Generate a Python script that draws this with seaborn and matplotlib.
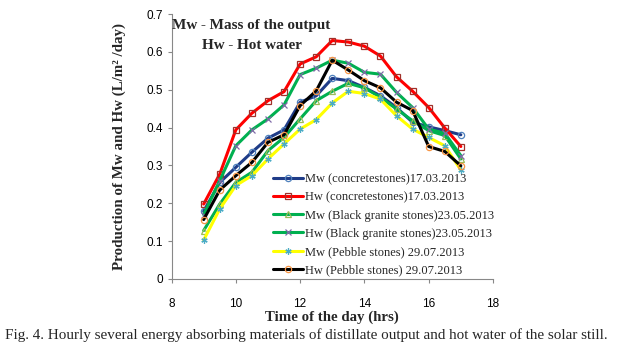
import matplotlib
matplotlib.use("Agg")
import matplotlib.pyplot as plt
import seaborn as sns
import pandas as pd

hours = [9, 9.5, 10, 10.5, 11, 11.5, 12, 12.5, 13, 13.5, 14, 14.5, 15, 15.5, 16, 16.5, 17]

mw_concrete = [0.179, 0.255, 0.295, 0.335, 0.372, 0.394, 0.467, 0.484, 0.530, 0.524,
               0.506, 0.484, 0.453, 0.414, 0.402, 0.392, 0.381]
hw_concrete = [0.198, 0.277, 0.394, 0.438, 0.471, 0.495, 0.568, 0.587, 0.630, 0.626,
               0.615, 0.589, 0.534, 0.496, 0.453, 0.399, 0.350]
mw_granite = [0.128, 0.198, 0.255, 0.282, 0.339, 0.374, 0.423, 0.471, 0.496, 0.517,
              0.505, 0.480, 0.449, 0.418, 0.392, 0.379, 0.317]
hw_granite = [0.170, 0.260, 0.352, 0.394, 0.423, 0.460, 0.540, 0.557, 0.578, 0.570,
              0.546, 0.541, 0.493, 0.453, 0.396, 0.385, 0.326]
mw_pebble = [0.103, 0.185, 0.247, 0.273, 0.317, 0.357, 0.396, 0.421, 0.465, 0.496,
             0.490, 0.475, 0.431, 0.396, 0.374, 0.352, 0.288]
hw_pebble = [0.157, 0.235, 0.273, 0.308, 0.361, 0.381, 0.458, 0.497, 0.578, 0.552,
             0.524, 0.505, 0.467, 0.445, 0.350, 0.337, 0.299]

labels = [
    "Mw (concretestones)17.03.2013",
    "Hw (concretestones)17.03.2013",
    "Mw (Black granite stones)23.05.2013",
    "Hw (Black granite stones)23.05.2013",
    "Mw (Pebble stones) 29.07.2013",
    "Hw (Pebble stones) 29.07.2013",
]
series = [mw_concrete, hw_concrete, mw_granite, hw_granite, mw_pebble, hw_pebble]

# (line colour, marker, marker edge colour, open marker)
styles = [
    ("#1F3C88", "o", "#4F81BD", True),
    ("#FF0000", "s", "#A0302A", True),
    ("#00B050", "^", "#9BBB59", True),
    ("#00B050", "x", "#7F6AA8", False),
    ("#FFFF00", (6, 2, 0), "#4BACC6", False),
    ("#000000", "o", "#F79646", True),
]

sns.set_style("white")
plt.rcParams["font.family"] = ["Liberation Sans", "DejaVu Sans"]

fig = plt.figure(figsize=(6.17, 3.43), dpi=100)
ax = fig.add_axes([0.278, 0.1866, 0.521, 0.7725])

for name, vals, (lc, mk, mec, hollow) in zip(labels, series, styles):
    df = pd.DataFrame({"hour": hours, "value": vals})
    sns.lineplot(data=df, x="hour", y="value", ax=ax, color=lc, linewidth=2.2,
                 marker=mk, markersize=4.5,
                 markerfacecolor="none" if hollow else mec,
                 markeredgecolor=mec, markeredgewidth=0.9, label=name)

ax.set_xlim(8, 18)
ax.set_ylim(0, 0.7)
ax.set_xticks([8, 10, 12, 14, 16, 18])
ax.set_yticks([0, 0.1, 0.2, 0.3, 0.4, 0.5, 0.6, 0.7])
ax.set_yticklabels(["0", "0.1", "0.2", "0.3", "0.4", "0.5", "0.6", "0.7"])
ax.tick_params(axis="both", labelsize=8.5, length=3, width=0.8,
               direction="out", colors="#888888", labelcolor="black")
ax.tick_params(axis="x", pad=11)
ax.tick_params(axis="y", pad=3)
ax.xaxis.set_ticks_position("bottom")
ax.yaxis.set_ticks_position("left")
for side in ("top", "right"):
    ax.spines[side].set_visible(False)
for side in ("left", "bottom"):
    ax.spines[side].set_color("#888888")
    ax.spines[side].set_linewidth(0.8)

serif = ["Liberation Serif", "DejaVu Serif"]
ax.set_xlabel("Time of the day (hrs)", family=serif, fontweight="bold",
              fontsize=10.7, va="center")
ax.xaxis.set_label_coords(0.5, -0.143)
ax.set_ylabel("Production of Mw and Hw (L/m² /day)", family=serif,
              fontweight="bold", fontsize=10.8, va="center")
ax.yaxis.set_label_coords(-0.162, 0.5)

ax.text(0.0, 0.958, "Mw - Mass of the output", transform=ax.transAxes,
        family=serif, fontweight="bold", fontsize=10.9, ha="left", va="center")
ax.text(0.094, 0.882, "Hw - Hot water", transform=ax.transAxes,
        family=serif, fontweight="bold", fontsize=10.9, ha="left", va="center")

leg = ax.legend(loc="upper left", bbox_to_anchor=(0.315, 0.40), frameon=False,
                prop={"family": serif, "size": 9}, handlelength=2.4,
                handletextpad=0.15, labelspacing=0.5, borderaxespad=0,
                borderpad=0)

fig.text(0.008, 0.023,
         "Fig. 4. Hourly several energy absorbing materials of distillate output "
         "and hot water of the solar still.",
         family=serif, fontsize=10.9, ha="left", va="center")

fig.savefig("out.png", dpi=100)
